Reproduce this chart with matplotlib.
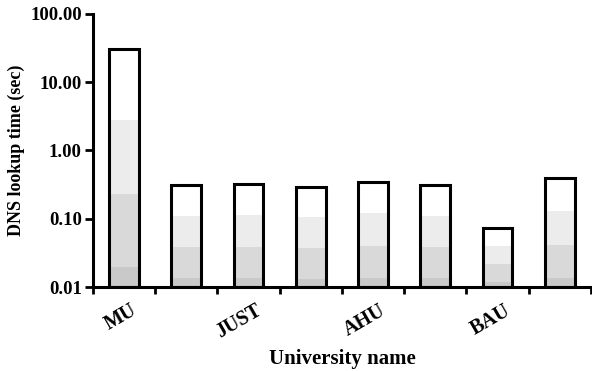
import numpy as np
import matplotlib
matplotlib.use("Agg")
import matplotlib.pyplot as plt

plt.rcParams["font.family"] = ["Liberation Serif", "DejaVu Serif"]
plt.rcParams["font.weight"] = "bold"
plt.rcParams["axes.labelweight"] = "bold"

# DNS lookup time per university (sec)
universities = ["MU", "", "JUST", "", "AHU", "", "BAU", ""]
lookup_sec = [31.0, 0.31, 0.325, 0.29, 0.35, 0.31, 0.073, 0.39]

# shading steps of the bar fill, as fractions of bar height on the log axis
band_edges = [0.0, 0.085, 0.39, 0.70, 1.0]
band_colors = ["#c9c9c9", "#d9d9d9", "#ececec", "#ffffff"]

ymin = 0.01
fig = plt.figure(figsize=(5.92, 3.71), dpi=100)
ax = fig.add_axes([0.157, 0.2264, 0.841, 0.736])
ax.set_yscale("log")

x = np.arange(len(lookup_sec)) + 0.5
w = 0.48
lo = np.log10(ymin)
for f0, f1, c in zip(band_edges[:-1], band_edges[1:], band_colors):
    b = 10 ** (lo + f0 * (np.log10(lookup_sec) - lo))
    t = 10 ** (lo + f1 * (np.log10(lookup_sec) - lo))
    ax.bar(x, t - b, w, bottom=b, color=c, lw=0, zorder=1)
ax.bar(x, np.array(lookup_sec) - ymin, w, bottom=ymin, facecolor="none",
       edgecolor="black", lw=2.2, zorder=2)

ax.set_ylim(ymin, 100)
ax.set_xlim(0, len(lookup_sec))
ax.set_yticks([0.01, 0.1, 1, 10, 100])
ax.set_yticklabels(["0.01", "0.10", "1.00", "10.00", "100.00"], fontsize=13.5)
ax.yaxis.set_minor_locator(matplotlib.ticker.NullLocator())
ax.set_xticks(np.arange(len(lookup_sec) + 1))
ax.set_xticklabels([])
for xi, name in zip(x, universities):
    if name:
        ax.text(xi + 0.1, -0.05, name, transform=ax.get_xaxis_transform(),
                rotation=30, ha="right", va="top", fontsize=14.5,
                rotation_mode="anchor")

ax.tick_params(axis="y", length=6, width=2, pad=2)
ax.tick_params(axis="x", length=5, width=2)
for s in ["top", "right"]:
    ax.spines[s].set_visible(False)
for s in ["left", "bottom"]:
    ax.spines[s].set_linewidth(2.2)

ax.set_xlabel("University name", fontsize=15, labelpad=36)
ax.set_ylabel("DNS lookup time (sec)", fontsize=13, labelpad=4)

fig.savefig("out.png", dpi=100)
